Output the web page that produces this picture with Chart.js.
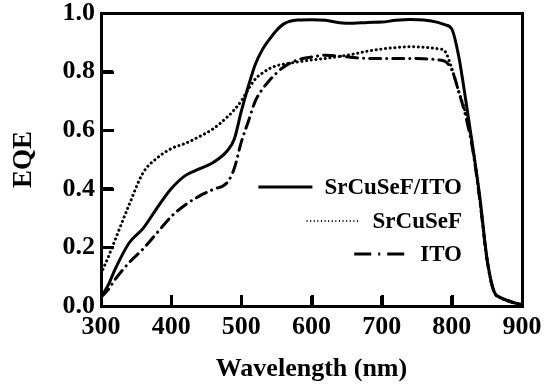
<!DOCTYPE html>
<html>
<head>
<meta charset="utf-8">
<script src="https://cdn.jsdelivr.net/npm/chart.js@4"></script>
<style>
  html, body { margin: 0; padding: 0; background: #fff; }
  #wrap { width: 555px; height: 389px; }
</style>
</head>
<body>
<div id="wrap"><canvas id="myChart"></canvas></div>
<script>
// wavelengths (nm) shared by all three curves
var wavelengths = [300, 310, 320, 340, 360, 380, 400, 420, 440, 460, 480, 490, 500, 510, 520, 530, 540, 550, 560, 580,
  600, 620, 640, 660, 680, 700, 720, 740, 760, 780, 790, 800, 810, 820, 830, 840, 850, 860, 870, 880, 890, 900]

var eqeSrCuSeFITO = [0.03, 0.07, 0.125, 0.215, 0.265, 0.335, 0.40, 0.445, 0.468, 0.49, 0.53, 0.57, 0.665, 0.75, 0.825, 0.875, 0.91, 0.94, 0.962, 0.976,
  0.977, 0.975, 0.967, 0.965, 0.968, 0.969, 0.975, 0.978, 0.976, 0.968, 0.96, 0.945, 0.85, 0.70, 0.54, 0.37, 0.165, 0.05, 0.028, 0.018, 0.01, 0.005]

var eqeSrCuSeF = [0.11, 0.165, 0.225, 0.345, 0.455, 0.505, 0.537, 0.555, 0.578, 0.605, 0.645, 0.67, 0.70, 0.74, 0.775, 0.795, 0.81, 0.82, 0.825, 0.833,
  0.84, 0.845, 0.852, 0.86, 0.87, 0.877, 0.882, 0.885, 0.883, 0.878, 0.87, 0.81, 0.73, 0.655, 0.54, 0.36, 0.16, 0.05, 0.028, 0.018, 0.01, 0.005]

var eqeITO = [0.03, 0.055, 0.09, 0.148, 0.195, 0.25, 0.305, 0.345, 0.375, 0.398, 0.422, 0.47, 0.56, 0.63, 0.70, 0.74, 0.77, 0.795, 0.815, 0.84,
  0.85, 0.856, 0.853, 0.848, 0.845, 0.845, 0.845, 0.845, 0.844, 0.84, 0.835, 0.806, 0.73, 0.645, 0.53, 0.36, 0.16, 0.05, 0.028, 0.018, 0.01, 0.005]

var seriesNames = ['SrCuSeF/ITO', 'SrCuSeF', 'ITO']
var xTicks = [300, 400, 500, 600, 700, 800, 900]
var yTicks = [0.0, 0.2, 0.4, 0.6, 0.8, 1.0]

var font = "'Liberation Serif', 'Times New Roman', serif"

function pts(ys) {
  return wavelengths.map((w, i) => ({ x: w, y: ys[i] }))
}

function seg(ctx, x0, y0, x1, y1) {
  ctx.beginPath()
  ctx.moveTo(x0, y0)
  ctx.lineTo(x1, y1)
  ctx.stroke()
}

// frame box, inner ticks and the right aligned legend
var framePlugin = {
  id: 'frameBox',
  afterDraw(chart) {
    var ctx = chart.ctx
    var xs = chart.scales.x, ys = chart.scales.y
    var L = Math.round(xs.left), R = Math.round(xs.right), T = Math.round(ys.top), B = Math.round(ys.bottom)
    ctx.save()
    ctx.fillStyle = '#000'
    ctx.fillRect(L - 1, T - 1, R - L + 3, 3)
    ctx.fillRect(L - 1, B - 1, R - L + 3, 3)
    ctx.fillRect(L - 1, T - 1, 3, B - T + 3)
    ctx.fillRect(R - 1, T - 1, 3, B - T + 3)
    for (var i = 1; i < xTicks.length - 1; i++) {
      var px = Math.round(xs.getPixelForValue(xTicks[i]))
      ctx.fillRect(px - 1, B - 11, 3, 11)
    }
    for (var j = 1; j < yTicks.length - 1; j++) {
      var py = Math.round(ys.getPixelForValue(yTicks[j]))
      ctx.fillRect(L, py - 1, 13, 3)
    }

    var right = chart.chartArea.right - 60
    var top = chart.chartArea.top
    var rows = [top + 174, top + 208, top + 241]
    var dashes = [[], [1, 2.6], [17, 7, 2, 7]]
    var widths = [3, 2, 3]
    ctx.font = 'bold 23px ' + font
    ctx.textAlign = 'right'
    ctx.textBaseline = 'middle'
    ctx.strokeStyle = '#000'
    chart.data.datasets.forEach((ds, k) => {
      var y = rows[k]
      var tw = ctx.measureText(ds.label).width
      var x1 = right - tw - 12
      ctx.fillText(ds.label, right, y + 1)
      ctx.lineWidth = widths[k]
      ctx.lineCap = 'butt'
      ctx.setLineDash(dashes[k])
      seg(ctx, x1 - 54, y, x1, y)
    })
    ctx.restore()
  }
}

var data = {
  datasets: [{
    label: seriesNames[0],
    data: pts(eqeSrCuSeFITO),
    borderColor: '#000',
    borderWidth: 3,
  }, {
    label: seriesNames[1],
    data: pts(eqeSrCuSeF),
    borderColor: '#000',
    borderWidth: 3,
    borderDash: [0.1, 4.6],
    borderCapStyle: 'round',
  }, {
    label: seriesNames[2],
    data: pts(eqeITO),
    borderColor: '#000',
    borderWidth: 3,
    borderDash: [11, 6, 0.1, 6],
    borderCapStyle: 'round',
  }]
}

var config = {
  type: 'line',
  data: data,
  options: {
    responsive: false,
    animation: false,
    devicePixelRatio: 1,
    layout: { padding: { left: 0, top: 13, right: 33, bottom: 0 } },
    elements: { point: { radius: 0 }, line: { tension: 0.4, cubicInterpolationMode: 'monotone' } },
    plugins: { legend: { display: false }, tooltip: { enabled: false } },
    scales: {
      x: {
        type: 'linear',
        min: 300, max: 900,
        afterFit: s => { s.height = 83; s.paddingLeft = 0; s.paddingRight = 0 },
        afterBuildTicks: s => { s.ticks = xTicks.map(v => ({ value: v })) },
        // negative tick length -> ticks point into the plot
        grid: { display: true, drawOnChartArea: false, drawTicks: true, tickLength: -10, color: '#000', lineWidth: 3 },
        border: { display: false },
        ticks: { color: '#000', padding: 16, maxRotation: 0, font: { family: font, size: 26, weight: 'bold' } },
        title: { display: true, text: 'Wavelength (nm)', color: '#000', padding: { top: 0, bottom: 4 }, font: { family: font, size: 26, weight: 'bold' } }
      },
      y: {
        min: 0, max: 1,
        afterFit: s => { s.width = 101; s.paddingTop = 0; s.paddingBottom = 0 },
        afterBuildTicks: s => { s.ticks = yTicks.map(v => ({ value: v })) },
        grid: { display: true, drawOnChartArea: false, drawTicks: true, tickLength: -12, color: '#000', lineWidth: 3 },
        border: { display: false },
        ticks: { color: '#000', padding: 18, callback: v => v.toFixed(1), font: { family: font, size: 26, weight: 'bold' } },
        title: { display: true, text: 'EQE', color: '#000', padding: { top: 8, bottom: 0 }, font: { family: font, size: 27, weight: 'bold' } }
      }
    }
  },
  plugins: [framePlugin]
}

var cv = document.getElementById('myChart')
cv.width = 555
cv.height = 389
var myChart = new Chart(cv, config)
</script>
</body>
</html>
